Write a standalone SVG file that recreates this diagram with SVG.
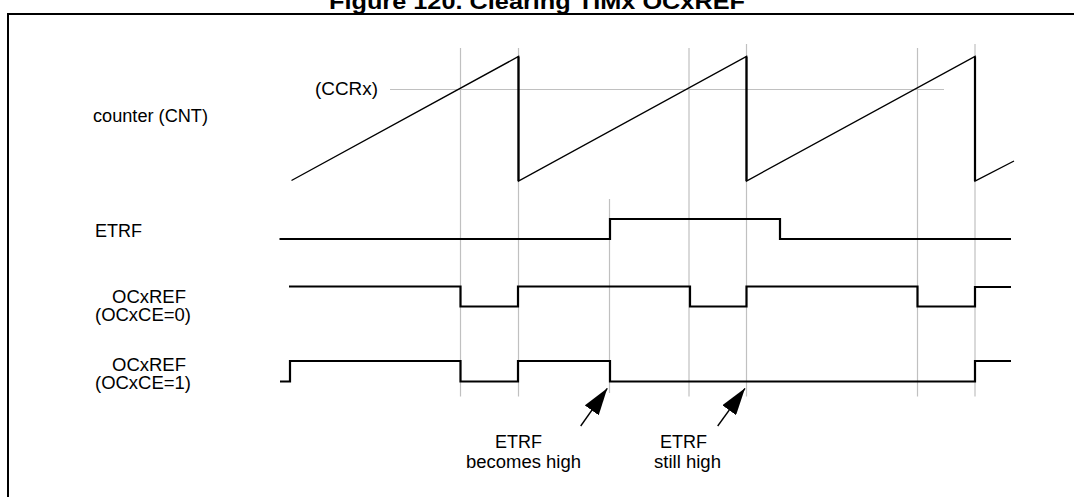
<svg xmlns="http://www.w3.org/2000/svg" width="1074" height="497" viewBox="0 0 1074 497">
<defs>
<style>
.lbl{font-family:"Liberation Sans",Arial,sans-serif;font-size:18px;fill:#000}
.title{font-family:"Liberation Sans",Arial,sans-serif;font-size:22px;font-weight:bold;fill:#000}
.grid{stroke:#c0c0c0;stroke-width:1.2;fill:none}
.sig{stroke:#000;stroke-width:2.2;fill:none;stroke-linejoin:miter;stroke-linecap:butt}
.ramp{stroke:#000;stroke-width:1.4;fill:none}
.arr{stroke:#000;stroke-width:1.4;fill:none}
</style>
<marker id="ah" viewBox="0 0 27 17" refX="27" refY="8.5" markerWidth="27" markerHeight="17" markerUnits="userSpaceOnUse" orient="auto">
<path d="M0,0 L27,8.5 L0,17 z" fill="#000"/>
</marker>
</defs>
<rect width="1074" height="497" fill="#fff"/>
<text class="title" x="537" y="8.5" text-anchor="middle" textLength="416" lengthAdjust="spacingAndGlyphs">Figure 120. Clearing TIMx OCxREF</text>
<path d="M8,500 V14 H1080" stroke="#000" stroke-width="2" fill="none"/>

<g id="grid">
<path class="grid" d="M460.5,48 V396.5 M518.5,48 V396.5 M689,48 V396.5 M746.5,44 V396.5 M917.5,48 V396.5 M975,44 V396.5 M609.5,199 V393 M390,89.5 H944"/>
</g>

<g id="counter">
<text class="lbl" x="93" y="122" textLength="115" lengthAdjust="spacingAndGlyphs">counter (CNT)</text>
<text class="lbl" x="315" y="95" textLength="63" lengthAdjust="spacingAndGlyphs">(CCRx)</text>
<path class="ramp" d="M291.5,180.5 L518.5,56.5 L518.5,181 L746.5,56.5 L746.5,181 L975,56.5 L975,181 L1014,161"/>
<path class="sig" d="M518.5,56.5 V181 M746.5,56.5 V181 M975,56.5 V181"/>
</g>

<g id="etrf">
<text class="lbl" x="95" y="236.5" textLength="47" lengthAdjust="spacingAndGlyphs">ETRF</text>
<path class="sig" d="M279.5,239 H610 V219 H780 V239 H1011"/>
</g>

<g id="ocxref0">
<text class="lbl" x="112" y="303" textLength="74" lengthAdjust="spacingAndGlyphs">OCxREF</text>
<text class="lbl" x="95" y="321" textLength="96" lengthAdjust="spacingAndGlyphs">(OCxCE=0)</text>
<path class="sig" d="M289,286.5 H460.5 V306.5 H518 V286.5 H690 V306.5 H746.5 V286.5 H917.5 V306.5 H975 V287 H1011"/>
</g>

<g id="ocxref1">
<text class="lbl" x="112" y="370.5" textLength="74" lengthAdjust="spacingAndGlyphs">OCxREF</text>
<text class="lbl" x="95" y="388.5" textLength="96" lengthAdjust="spacingAndGlyphs">(OCxCE=1)</text>
<path class="sig" d="M280,381.5 H290 V361 H460.5 V381.5 H518 V361 H610 V381.5 H975 V361 H1011"/>
</g>

<g id="note1">
<text class="lbl" x="495" y="448" textLength="47" lengthAdjust="spacingAndGlyphs">ETRF</text>
<text class="lbl" x="466" y="467.5" textLength="115" lengthAdjust="spacingAndGlyphs">becomes high</text>
</g>
<g id="note2">
<text class="lbl" x="660" y="448" textLength="47" lengthAdjust="spacingAndGlyphs">ETRF</text>
<text class="lbl" x="654" y="467.5" textLength="67" lengthAdjust="spacingAndGlyphs">still high</text>
</g>

<g id="connectors">
<line class="arr" x1="580.7" y1="426" x2="607.3" y2="388.3" marker-end="url(#ah)"/>
<line class="arr" x1="717.7" y1="426" x2="745" y2="388.3" marker-end="url(#ah)"/>
</g>
</svg>
